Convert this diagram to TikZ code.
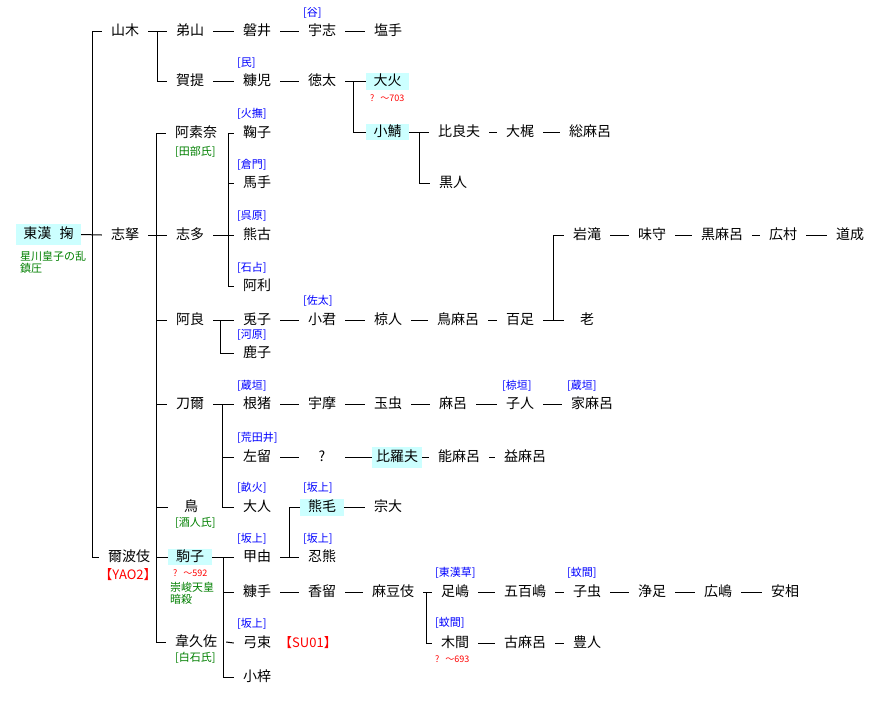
\documentclass[tikz,border=0pt]{standalone}
\usepackage{fontspec}
\setmainfont{Noto Sans CJK JP}
\definecolor{hlc}{RGB}{204,255,255}
\definecolor{labblue}{RGB}{0,0,255}
\definecolor{grn}{RGB}{0,128,0}
\definecolor{redc}{RGB}{255,0,0}
\tikzset{
  nm/.style={font=\fontsize{14}{16}\selectfont, inner xsep=9pt, inner ysep=2pt, text height=10pt, text depth=2pt},
  wide/.style={minimum width=46pt},
  hl/.style={fill=hlc, inner sep=0pt, font=\fontsize{14}{16}\selectfont, text height=10pt, text depth=2pt},
  lab/.style={font=\fontsize{11}{12}\selectfont, text=labblue, anchor=west, inner sep=0pt},
  grn/.style={font=\fontsize{11}{12.5}\selectfont, text=grn, anchor=west, inner sep=0pt, align=left},
  rsm/.style={font=\fontsize{9}{10}\selectfont, text=redc, anchor=west, inner sep=0pt},
  rbig/.style={font=\fontsize{13}{15}\selectfont, text=redc, inner sep=0pt},
  ln/.style={line width=1pt, black}
}
\begin{document}
\begin{tikzpicture}[x=1pt,y=-1pt]
\fill[white] (0,0) rectangle (872,702);
\useasboundingbox (0,0) rectangle (872,702);

% bus x positions
\coordinate (b0) at (92,0);
\coordinate (b1a) at (157,0);
\coordinate (b1b) at (156,0);
\coordinate (b2a) at (228,0);
\coordinate (b2b) at (220,0);
\coordinate (b2c) at (222,0);
\coordinate (b2d) at (223,0);
\coordinate (b3) at (289,0);
\coordinate (b4) at (353,0);
\coordinate (b5) at (419,0);
\coordinate (b6) at (553,0);
\coordinate (b7) at (426,0);

% root
\node[hl, minimum width=65pt, minimum height=21pt] (tsuka) at (48.5,234.5) {東漢\hspace{0.6em}掬};
\node[grn, anchor=north west] (tsukanote) at (20,251) {星川皇子の乱\\鎮圧};

% column 1
\node[nm] (yamaki) at (125,31) {山木};
\node[nm] (shinu) at (125,235) {志拏};
\node[nm] (nihaki) at (129,557) {爾波伎};
\node[rbig] (yao) at (128,575) {【YAO2】};

% column 2
\node[nm] (deshiyama) at (190,31) {弟山};
\node[nm] (kate) at (190,81) {賀提};
\node[nm] (asona) at (196,133) {阿素奈};
\node[grn] (asonal) at (175,152) {[田部氏]};
\node[nm] (shita) at (190,235) {志多};
\node[nm] (ara) at (190,320) {阿良};
\node[nm] (toni) at (190,404) {刀爾};
\node[nm, wide] (tori) at (191,507) {鳥};
\node[grn] (toril) at (175,523) {[酒人氏]};
\node[hl, minimum width=44pt, minimum height=16pt] (komako) at (190,557) {駒子};
\node[rsm] (komakor) at (173,573) {?\hspace{6pt}～592};
\node[grn, anchor=north west] (komakog) at (170,582) {崇峻天皇\\暗殺};
\node[nm] (isakusa) at (196,642) {韋久佐};
\node[grn] (isakusal) at (175,658) {[白石氏]};

% column 3
\node[nm] (iwai) at (257,31) {磐井};
\node[nm] (nukago) at (257,81) {糠児};
\node[lab] (nukagol) at (237,63) {[民]};
\node[nm] (kuriko) at (257,133) {鞠子};
\node[lab] (kurikol) at (237,114) {[火撫]};
\node[nm] (umate) at (257,183) {馬手};
\node[lab] (umatel) at (237,165) {[倉門]};
\node[nm] (kuko) at (257,235) {熊古};
\node[lab] (kukol) at (237,216) {[呉原]};
\node[nm] (ari) at (257,286) {阿利};
\node[lab] (aril) at (237,268) {[石占]};
\node[nm] (usagiko) at (257,320) {兎子};
\node[nm] (kaseko) at (257,353) {鹿子};
\node[lab] (kasekol) at (237,335) {[河原]};
\node[nm] (nei) at (257,404) {根猪};
\node[lab] (neil) at (237,386) {[蔵垣]};
\node[nm] (sadome) at (257,457) {左留};
\node[lab] (sadomel) at (237,438) {[荒田井]};
\node[nm] (ushi) at (257,507) {大人};
\node[lab] (ushil) at (237,488) {[畝火]};
\node[nm] (koyu) at (257,557) {甲由};
\node[lab] (koyul) at (237,539) {[坂上]};
\node[nm] (nukate) at (257,592) {糠手};
\node[nm] (yumitsuka) at (257,643) {弓束};
\node[lab] (yumitsukal) at (237,624) {[坂上]};
\node[rbig] (su) at (308,643) {【SU01】};
\node[nm] (koazusa) at (257,677) {小梓};

% column 4
\node[nm] (ushi2) at (322,31) {宇志};
\node[lab] (ushi2l) at (303,13) {[谷]};
\node[nm] (tokuta) at (322,81) {徳太};
\node[nm] (okimi) at (322,320) {小君};
\node[lab] (okimil) at (303,301) {[佐太]};
\node[nm] (uma) at (322,404) {宇摩};
\node[nm, wide] (q) at (322,457) {?};
\node[hl, minimum width=44pt, minimum height=17pt] (kumage) at (322,507) {熊毛};
\node[lab] (kumagel) at (303,488) {[坂上]};
\node[nm] (oshikuma) at (322,557) {忍熊};
\node[lab] (oshikumal) at (303,539) {[坂上]};
\node[nm] (kaoru) at (322,592) {香留};

% column 5
\node[nm] (shiote) at (388,31) {塩手};
\node[hl, minimum width=43pt, minimum height=17pt] (taika) at (387.5,81) {大火};
\node[rsm] (taikar) at (370,98) {?\hspace{6pt}～703};
\node[hl, minimum width=43pt, minimum height=16pt] (kosaba) at (387.5,132) {小鯖};
\node[nm] (kurahito) at (388,320) {椋人};
\node[nm] (tamamushi) at (388,404) {玉虫};
\node[hl, minimum width=50pt, minimum height=21pt] (hirabu2) at (397,457) {比羅夫};
\node[nm] (munehiro) at (388,507) {宗大};
\node[nm] (madoki) at (393,592) {麻豆伎};

% column 6
\node[nm] (hirabu) at (459,132) {比良夫};
\node[nm] (kurohito) at (453,183) {黒人};
\node[nm] (torimaro) at (458,320) {鳥麻呂};
\node[nm] (maro) at (453,404) {麻呂};
\node[nm] (nomaro) at (459,457) {能麻呂};
\node[nm] (ashishima) at (455,592) {足嶋};
\node[lab] (ashishimal) at (435,573) {[東漢草]};
\node[nm] (konoma) at (455,643) {木間};
\node[lab] (konomal) at (435,623) {[蚊間]};
\node[rsm] (konomar) at (435,659) {?\hspace{6pt}～693};

% column 7
\node[nm] (okaji) at (520,132) {大梶};
\node[nm] (momotari) at (520,320) {百足};
\node[nm] (kohito) at (520,404) {子人};
\node[lab] (kohitol) at (502,386) {[椋垣]};
\node[nm] (masumaro) at (525,457) {益麻呂};
\node[nm] (iojima) at (525,592) {五百嶋};
\node[nm] (komaro) at (525,643) {古麻呂};

% column 8
\node[nm] (fusamaro) at (590,132) {総麻呂};
\node[nm] (iwataki) at (587,235) {岩滝};
\node[nm, wide] (oi) at (587,320) {老};
\node[nm] (iemaro) at (592,404) {家麻呂};
\node[lab] (iemarol) at (567,386) {[蔵垣]};
\node[nm] (komushi) at (587,592) {子虫};
\node[lab] (komushil) at (567,573) {[蚊間]};
\node[nm] (toyohito) at (587,643) {豊人};

% columns 9-12
\node[nm] (ajimori) at (652,235) {味守};
\node[nm] (kuromaro) at (722,235) {黒麻呂};
\node[nm] (hiromura) at (783,235) {広村};
\node[nm] (michinari) at (850,235) {道成};
\node[nm] (kiyotari) at (652,592) {浄足};
\node[nm] (hiroshima) at (718,592) {広嶋};
\node[nm] (asuke) at (785,592) {安相};

% ---- connectors ----
% root bus
\draw[ln] (yamaki.west) -| (b0 |- nihaki) -- (nihaki.west);
\draw[ln] (tsuka.east) -- (shinu.west);
% yamaki
\draw[ln] (yamaki.east) -- (deshiyama.west);
\draw[ln] (b1a |- yamaki) |- (kate.west);
\draw[ln] (deshiyama.east) -- (iwai.west);
\draw[ln] (iwai.east) -- (ushi2.west);
\draw[ln] (ushi2.east) -- (shiote.west);
\draw[ln] (kate.east) -- (nukago.west);
\draw[ln] (nukago.east) -- (tokuta.west);
\draw[ln] (tokuta.east) -- (taika.west);
\draw[ln] (b4 |- tokuta) |- (kosaba.west);
\draw[ln] (kosaba.east) -- (hirabu.west);
\draw[ln] (b5 |- kosaba) |- (kurohito.west);
\draw[ln] (hirabu.east) -- (okaji.west);
\draw[ln] (okaji.east) -- (fusamaro.west);
% shinu bus
\draw[ln] (shinu.east) -- (shita.west);
\draw[ln] (asona.west) -| (b1b |- isakusa) -- (isakusa.west);
\draw[ln] (b1b |- ara) -- (ara.west);
\draw[ln] (b1b |- toni) -- (toni.west);
\draw[ln] (b1b |- tori) -- (tori.west);
\draw[ln] (b1b |- komako) -- (komako.west);
% asona / shita
\draw[ln] (kuriko.west) -| (b2a |- ari) -- (ari.west);
\draw[ln] (b2a |- umate) -- (umate.west);
\draw[ln] (shita.east) -- (kuko.west);
% ara
\draw[ln] (ara.east) -- (usagiko.west);
\draw[ln] (b2b |- ara) |- (kaseko.west);
\draw[ln] (usagiko.east) -- (okimi.west);
\draw[ln] (okimi.east) -- (kurahito.west);
\draw[ln] (kurahito.east) -- (torimaro.west);
\draw[ln] (torimaro.east) -- (momotari.west);
\draw[ln] (momotari.east) -- (oi.west);
\draw[ln] (b6 |- momotari) |- (iwataki.west);
\draw[ln] (iwataki.east) -- (ajimori.west);
\draw[ln] (ajimori.east) -- (kuromaro.west);
\draw[ln] (kuromaro.east) -- (hiromura.west);
\draw[ln] (hiromura.east) -- (michinari.west);
% toni
\draw[ln] (toni.east) -- (nei.west);
\draw[ln] (b2c |- toni) |- (ushi.west);
\draw[ln] (b2c |- sadome) -- (sadome.west);
\draw[ln] (nei.east) -- (uma.west);
\draw[ln] (uma.east) -- (tamamushi.west);
\draw[ln] (tamamushi.east) -- (maro.west);
\draw[ln] (maro.east) -- (kohito.west);
\draw[ln] (kohito.east) -- (iemaro.west);
\draw[ln] (sadome.east) -- (q.west);
\draw[ln] (q.east) -- (hirabu2.west);
\draw[ln] (hirabu2.east) -- (nomaro.west);
\draw[ln] (nomaro.east) -- (masumaro.west);
% komako
\draw[ln] (komako.east) -- (koyu.west);
\draw[ln] (b2d |- komako) |- (koazusa.west);
\draw[ln] (b2d |- nukate) -- (nukate.west);
\draw[ln] (isakusa.east) -- (yumitsuka.west);
\draw[ln] (koyu.east) -- (oshikuma.west);
\draw[ln] (b3 |- oshikuma) |- (kumage.west);
\draw[ln] (kumage.east) -- (munehiro.west);
\draw[ln] (nukate.east) -- (kaoru.west);
\draw[ln] (kaoru.east) -- (madoki.west);
\draw[ln] (madoki.east) -- (ashishima.west);
\draw[ln] (b7 |- madoki) |- (konoma.west);
\draw[ln] (ashishima.east) -- (iojima.west);
\draw[ln] (iojima.east) -- (komushi.west);
\draw[ln] (komushi.east) -- (kiyotari.west);
\draw[ln] (kiyotari.east) -- (hiroshima.west);
\draw[ln] (hiroshima.east) -- (asuke.west);
\draw[ln] (konoma.east) -- (komaro.west);
\draw[ln] (komaro.east) -- (toyohito.west);
\end{tikzpicture}
\end{document}
